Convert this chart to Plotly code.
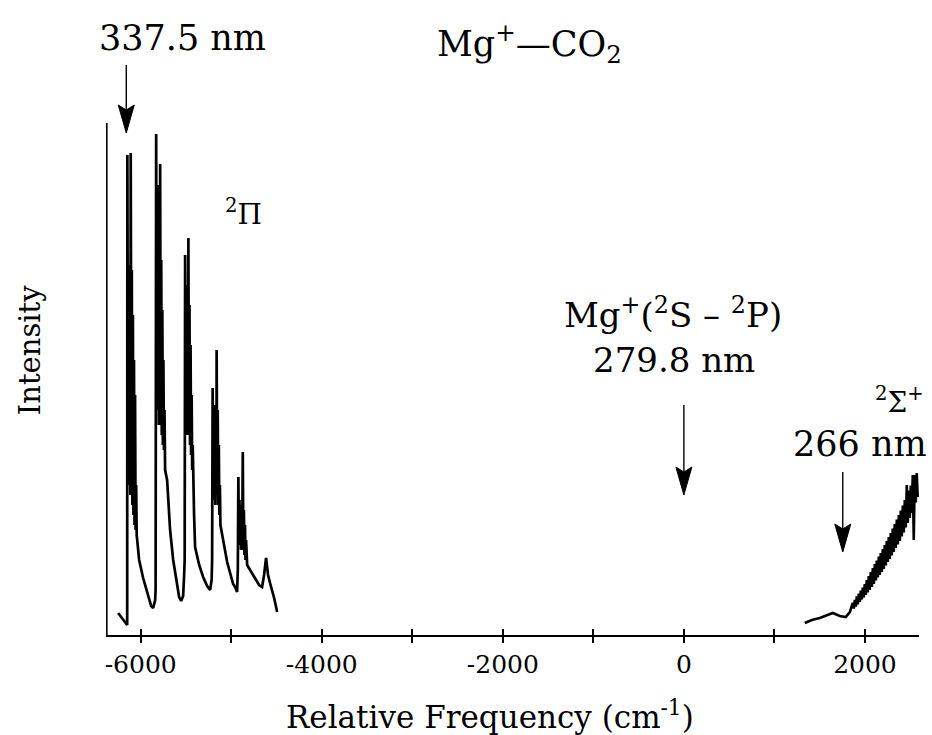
import plotly.graph_objects as go

# ---- data (relative frequency in cm-1, intensity in arbitrary units) ----
pi_freq = [-6249, -6193, -6149,
           -6147, -6140, -6133, -6127, -6120, -6114, -6110, -6104, -6098, -6092, -6086, -6080, -6074,
           -6068, -6062, -6056, -6050, -6044, -6017, -5973, -5928, -5884, -5862, -5840,
           -5835, -5829, -5823, -5817, -5811, -5805, -5799, -5793, -5787, -5785, -5779, -5773, -5767,
           -5761, -5755, -5749, -5743, -5737, -5730, -5708, -5675, -5641, -5608, -5575, -5553, -5531, -5520,
           -5514, -5509, -5503, -5497, -5491, -5485, -5479, -5473, -5467, -5461, -5455, -5449, -5443,
           -5437, -5431, -5425, -5410, -5399, -5354, -5310, -5266, -5233, -5216,
           -5211, -5205, -5199, -5193, -5187, -5181, -5175, -5169, -5163, -5161, -5155, -5149, -5143,
           -5137, -5131, -5125, -5119, -5089, -5045, -5012, -4979, -4957, -4935, -4927,
           -4921, -4915, -4909, -4903, -4897, -4891, -4885, -4879, -4872, -4866, -4860, -4854, -4848,
           -4842, -4836, -4824, -4791, -4758, -4725, -4692, -4659, -4637, -4615, -4604, -4593, -4571,
           -4548, -4526, -4504, -4493]
pi_int = [4.4, 3.0, 2.0,
          96.0, 40.0, 74.0, 30.0, 70.0, 28.0, 96.4, 45.0, 73.0, 26.0, 64.0, 24.0, 55.0,
          22.0, 48.0, 21.0, 30.0, 20.0, 15.0, 11.4, 8.6, 5.8, 5.4, 7.0,
          9.0, 100.2, 50.0, 88.0, 45.0, 90.0, 42.0, 80.0, 44.0, 94.2, 42.0, 75.0, 40.0,
          65.0, 38.0, 55.0, 37.0, 45.0, 33.0, 31.0, 21.0, 15.0, 11.0, 7.6, 6.8, 7.8, 12.0,
          15.0, 76.0, 45.0, 70.0, 40.0, 68.0, 42.0, 79.4, 40.0, 66.0, 38.0, 58.0, 36.0,
          48.0, 33.0, 38.0, 24.0, 17.6, 14.0, 11.6, 9.8, 9.0, 11.0,
          15.0, 49.4, 28.0, 46.0, 27.0, 44.0, 26.0, 46.0, 28.0, 57.0, 30.0, 45.0, 26.0,
          38.0, 24.0, 30.0, 22.0, 19.0, 14.6, 12.4, 10.2, 9.6, 8.6, 13.0,
          31.6, 19.0, 27.0, 18.0, 26.0, 17.0, 25.0, 18.0, 36.6, 17.0, 25.0, 16.0, 22.0,
          15.0, 19.0, 14.0, 13.0, 11.8, 11.0, 10.0, 9.6, 12.0, 15.4, 14.0, 12.0, 10.4,
          9.0, 7.4, 5.6, 4.6]

sigma_freq = [1336, 1413, 1501, 1579, 1645, 1722, 1788, 1833,
              1866, 1877, 1888, 1899, 1910, 1921, 1932, 1943, 1954, 1965, 1976, 1987, 1998, 2009,
              2020, 2031, 2042, 2053, 2064, 2076, 2087, 2098, 2109, 2120, 2131, 2142, 2153, 2164,
              2175, 2186, 2197, 2208, 2219, 2230, 2241, 2252, 2263, 2274, 2285, 2296, 2307, 2318,
              2329, 2340, 2352, 2363, 2374, 2385, 2396, 2407, 2418, 2429, 2440, 2451, 2462, 2473,
              2484, 2495, 2506, 2517, 2528, 2539, 2550, 2561, 2572, 2583]
sigma_int = [2.4, 3.0, 3.4, 4.0, 4.4, 3.8, 3.6, 4.6,
             6.4, 5.3, 7.0, 5.7, 7.7, 6.1, 8.3, 6.6, 8.9, 7.1, 9.5, 7.5, 10.2, 8.0,
             11.0, 8.5, 11.8, 9.0, 12.6, 9.6, 13.4, 10.2, 14.2, 10.9, 14.9, 11.5, 15.7, 12.0,
             16.4, 12.6, 17.2, 13.2, 18.0, 13.9, 18.8, 14.6, 19.6, 15.2, 20.4, 15.9, 21.3, 16.6,
             22.2, 17.4, 23.1, 18.1, 24.0, 18.8, 24.9, 19.7, 25.9, 20.5, 27.0, 21.5, 30.0, 22.4,
             28.9, 23.4, 29.9, 24.4, 32.0, 19.0, 32.0, 26.5, 32.4, 27.6]

edge_freq = [-6374, -6374]
edge_int = [102.4, 0.0]

tick_vals = [-6000, -4000, -2000, 0, 2000]
tick_text = ["-6000", "-4000", "-2000", "0", "2000"]
minor_tick_vals = [-5000, -3000, -1000, 1000]

arrow_freq = [-6159, 0, 1755]
arrow_tip = [100.4, 28.0, 16.6]
arrow_tail = [114.0, 46.0, 32.6]

label_text = ["337.5 nm", "Mg<sup>+</sup>\u2014CO<sub>2</sub>", "<sup>2</sup>\u03a0",
              "Mg<sup>+</sup>(<sup>2</sup>S \u2013 <sup>2</sup>P)", "279.8 nm",
              "<sup>2</sup>\u03a3<sup>+</sup>", "266 nm"]
label_freq = [-5540, -1700, -4860, -120, -110, 2385, 1950]
label_int = [119.4, 118.4, 84.6, 64.4, 55.0, 47.0, 38.2]
label_size = [35, 35, 28, 34, 34, 28, 35]

FONT = "DejaVu Serif"

fig = go.Figure()
for fx, fy, w in [(edge_freq, edge_int, 1.6), (pi_freq, pi_int, 2.7), (sigma_freq, sigma_int, 2.6)]:
    fig.add_trace(go.Scatter(x=fx, y=fy, mode="lines",
                             line=dict(color="black", width=w),
                             showlegend=False, hoverinfo="skip"))

# invisible trace carrying the second (inward-tick) x axis
fig.add_trace(go.Scatter(x=[tick_vals[0]], y=[0], xaxis="x2", mode="markers",
                         marker=dict(opacity=0), showlegend=False, hoverinfo="skip"))

for ax_, tip, tail in zip(arrow_freq, arrow_tip, arrow_tail):
    fig.add_shape(type="line", xref="x", yref="y", x0=ax_, x1=ax_, y0=tip + 4, y1=tail,
                  line=dict(color="black", width=1.4))
    fig.add_shape(type="path", xref="x", yref="y", xsizemode="pixel", ysizemode="pixel",
                  xanchor=ax_, yanchor=tip, path="M0,0 L-8,28 L0,23 L8,28 Z",
                  fillcolor="black", line=dict(color="black", width=1))

for t, fx, fy, fs in zip(label_text, label_freq, label_int, label_size):
    fig.add_annotation(x=fx, y=fy, xref="x", yref="y", text=t, showarrow=False,
                       xanchor="center", yanchor="middle",
                       font=dict(family=FONT, size=fs, color="black"))

fig.add_annotation(x=0.472, y=-0.13, xref="paper", yref="paper",
                   xanchor="center", yanchor="middle",
                   text="Relative Frequency (cm<sup>-1</sup>)", showarrow=False,
                   font=dict(family=FONT, size=31, color="black"))
fig.add_annotation(x=-0.0935, y=0.463, xref="paper", yref="paper", text="Intensity",
                   xanchor="center", yanchor="middle",
                   textangle=-90, showarrow=False,
                   font=dict(family=FONT, size=29, color="black"))

minor_out = dict(tickmode="array", tickvals=minor_tick_vals, ticks="outside",
                 ticklen=6, tickwidth=1.5, tickcolor="black", showgrid=False)
minor_in = dict(tickmode="array", tickvals=minor_tick_vals, ticks="inside",
                ticklen=6, tickwidth=1.5, tickcolor="black", showgrid=False)

fig.update_layout(
    width=932, height=735,
    margin=dict(l=106, r=13, t=20, b=100, autoexpand=False),
    paper_bgcolor="white", plot_bgcolor="white",
    font=dict(family=FONT, color="black"),
    xaxis=dict(range=[-6383, 2597], tickmode="array", tickvals=tick_vals, ticktext=tick_text,
               ticks="outside", ticklen=6, tickwidth=1.5, tickcolor="black", minor=minor_out,
               showline=True, linecolor="black", linewidth=2, showgrid=False, zeroline=False,
               tickfont=dict(family=FONT, size=25, color="black")),
    xaxis2=dict(range=[-6383, 2597], tickmode="array", tickvals=tick_vals, ticks="inside",
                ticklen=6, tickwidth=1.5, tickcolor="black", minor=minor_in,
                showticklabels=False, overlaying="x",
                side="bottom", anchor="y", showgrid=False, zeroline=False, showline=False),
    yaxis=dict(range=[0, 123], visible=False, showgrid=False, zeroline=False),
)

fig.write_html("out.html", config={"displayModeBar": False},
               post_script="document.body.style.margin='0';document.body.style.overflow='hidden';")
